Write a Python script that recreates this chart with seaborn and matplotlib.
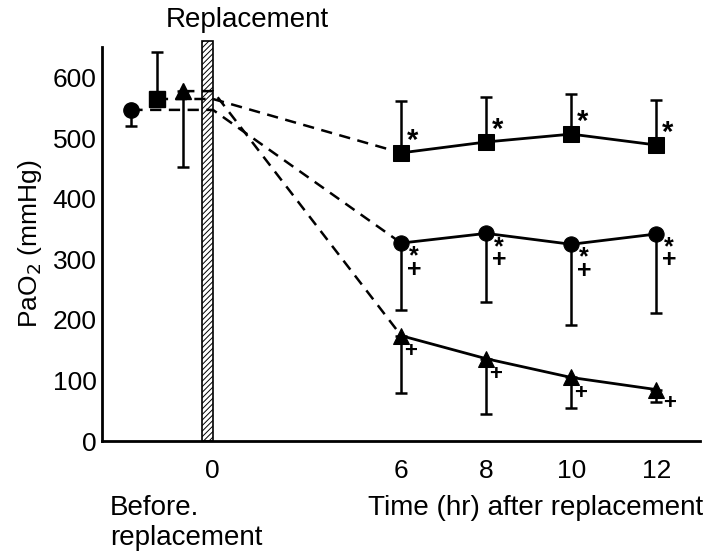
import matplotlib
matplotlib.use("Agg")
import matplotlib.pyplot as plt
from matplotlib.patches import Rectangle
import seaborn as sns
import pandas as pd

# values (PaO2, mmHg)
hours = [6, 8, 10, 12]
square_mean = [476, 494, 507, 489]
square_err_up = [86, 75, 67, 75]
circle_mean = [327, 343, 325, 342]
circle_err_down = [110, 113, 134, 130]
triangle_mean = [174, 136, 105, 85]
triangle_err_down = [94, 91, 50, 20]

# before replacement
before_labels = ["circle", "square", "triangle"]
before_mean = [547, 565, 578]
before_err = [26, 78, 125]          # circle down, square up, triangle down

x_tick_labels = ["0", "6", "8", "10", "12"]

# layout: broken time axis, 0 sits at the bar, hours shifted left
x_gap = 1.55
before_pos = [-1.9, -1.3, -0.68]
x_after = [h - x_gap for h in hours]

sns.set_style("white")
plt.rcParams["font.family"] = ["Liberation Sans", "DejaVu Sans"]
plt.rcParams["hatch.linewidth"] = 0.7
plt.rcParams["text.color"] = "black"
plt.rcParams["axes.labelcolor"] = "black"
plt.rcParams["ytick.color"] = "black"
plt.rcParams["xtick.color"] = "black"
FS = 19

fig = plt.figure(figsize=(7.06, 5.52), dpi=100)
ax = fig.add_axes([0.1445, 0.201, 0.847, 0.714])

# hatched replacement bar
ax.add_patch(Rectangle((-0.24, 0), 0.26, 660, facecolor="white", edgecolor="black",
                       hatch="//////", lw=1.2, clip_on=False, zorder=2))

# dashed connectors from before values to 6 hr
for bx, by, ay in zip(before_pos, before_mean, [circle_mean[0], square_mean[0], triangle_mean[0]]):
    ax.plot([bx, 0.02, x_after[0]], [by, by, ay], ls=(0, (4.5, 3)), color="black", lw=1.8, zorder=3)

df = pd.DataFrame({"x": x_after * 3,
                   "y": square_mean + circle_mean + triangle_mean,
                   "grp": ["sq"] * 4 + ["ci"] * 4 + ["tr"] * 4})
for grp, mk in [("sq", "s"), ("ci", "o"), ("tr", "^")]:
    sns.lineplot(data=df[df.grp == grp], x="x", y="y", color="black", lw=2,
                 marker=mk, markersize=11, markeredgecolor="black", ax=ax, zorder=4)

ekw = dict(fmt="none", ecolor="black", elinewidth=1.8, capsize=4.5, capthick=1.8, zorder=3)
ax.errorbar(x_after, square_mean, yerr=[[0] * 4, square_err_up], **ekw)
ax.errorbar(x_after, circle_mean, yerr=[circle_err_down, [0] * 4], **ekw)
ax.errorbar(x_after, triangle_mean, yerr=[triangle_err_down, [0] * 4], **ekw)

# before replacement points
for (lab, mk), bx, by, be in zip([("circle", "o"), ("square", "s"), ("triangle", "^")],
                                 before_pos, before_mean, before_err):
    err = [[0], [be]] if lab == "square" else [[be], [0]]
    ax.errorbar([bx], [by], yerr=err, **ekw)
    ax.plot([bx], [by], marker=mk, color="black", ms=11, zorder=4)

akw = dict(textcoords="offset pixels", ha="center", va="center", fontweight="bold")
for x, y in zip(x_after, square_mean):
    ax.annotate("*", (x, y), xytext=(11, 12), fontsize=21, **akw)
for x, y in zip(x_after, circle_mean):
    ax.annotate("*\n+", (x, y), xytext=(13, -20), fontsize=18, linespacing=0.42, **akw)
for i, (x, y) in enumerate(zip(x_after, triangle_mean)):
    off = (13, -14) if i == 3 else (9, -16)
    ax.annotate("+", (x, y), xytext=off, fontsize=16, **akw)

ax.set_xlim(-2.59, 11.48)
ax.set_ylim(0, 651)
ax.set_yticks([0, 100, 200, 300, 400, 500, 600])
ax.tick_params(axis="y", direction="in", length=6, width=1.5, labelsize=FS, pad=4)
ax.set_xticks([0] + x_after)
ax.set_xticklabels(x_tick_labels)
ax.tick_params(axis="x", length=0, labelsize=FS, pad=13)
ax.set_xlabel("")
ax.set_ylabel("PaO$_2$ (mmHg)", fontsize=FS, labelpad=6)
for s in ["top", "right"]:
    ax.spines[s].set_visible(False)
for s in ["left", "bottom"]:
    ax.spines[s].set_linewidth(2)
    ax.spines[s].set_color("black")

fig.text(247 / 706, 1 - 20 / 552, "Replacement", ha="center", va="center", fontsize=FS + 1)
fig.text(110 / 706, 1 - 508 / 552, "Before.", ha="left", va="center", fontsize=FS + 1)
fig.text(110 / 706, 1 - 538 / 552, "replacement", ha="left", va="center", fontsize=FS + 1)
fig.text(703 / 706, 1 - 508 / 552, "Time (hr) after replacement", ha="right", va="center",
         fontsize=FS + 1)

fig.savefig("out.png", dpi=100)
